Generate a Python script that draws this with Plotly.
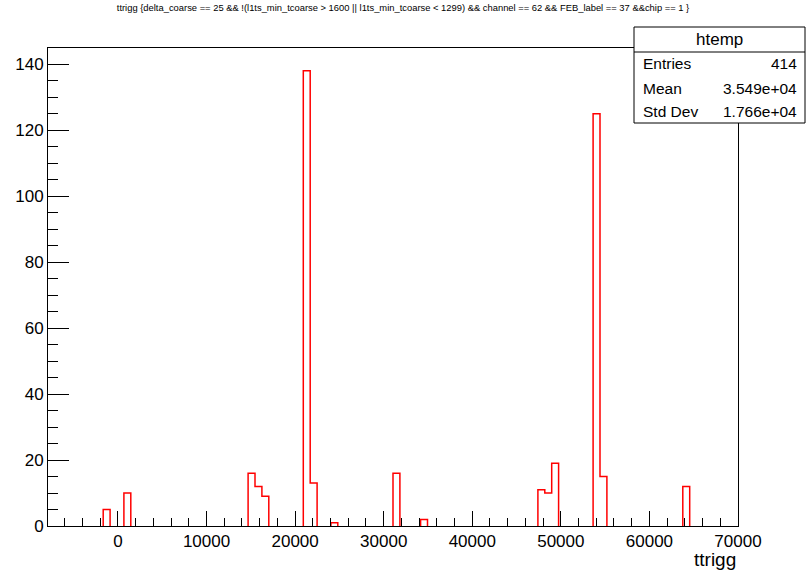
import plotly.graph_objects as go

# ---- data (ROOT htemp histogram) ----
nbins = 100
x_low = -7900.0
x_high = 70000.0
filled_bins = [8, 11, 29, 30, 31, 37, 38, 41, 50, 54, 71, 72, 73, 79, 80, 92]
bin_counts = [5, 10, 16, 12, 9, 138, 13, 1, 16, 2, 11, 10, 19, 125, 15, 12]
x_tick_vals = [0, 10000, 20000, 30000, 40000, 50000, 60000, 70000]
x_tick_text = ["0", "10000", "20000", "30000", "40000", "50000", "60000", "70000"]
y_tick_vals = [0, 20, 40, 60, 80, 100, 120, 140]
stats_name = "htemp"
stats_labels = ["Entries", "Mean", "Std Dev"]
stats_values = ["414", "3.549e+04", "1.766e+04"]
title_text = ("ttrigg {delta_coarse == 25 && !(l1ts_min_tcoarse > 1600 || "
              "l1ts_min_tcoarse < 1299) && channel == 62 && FEB_label == 37 &&chip == 1 }")
x_title = "ttrigg"

# ---- build histogram step outline ----
width = (x_high - x_low) / nbins
counts = [0] * nbins
for b, c in zip(filled_bins, bin_counts):
    counts[b] = c
edges = [x_low + i * width for i in range(nbins + 1)]

xs, ys = [], []
i = 0
while i < nbins:
    if counts[i] > 0:
        xs.append(edges[i]); ys.append(0)
        while i < nbins and counts[i] > 0:
            xs += [edges[i], edges[i + 1]]
            ys += [counts[i], counts[i]]
            i += 1
        xs.append(edges[i]); ys.append(0)
        xs.append(None); ys.append(None)
    else:
        i += 1

W, H = 806, 574
L, R, T, B = 48, 738, 48, 526
ymax = 1.05 * max(bin_counts)

fig = go.Figure()
fig.add_trace(go.Scatter(x=xs, y=ys, mode="lines",
                         line=dict(color="#ff0000", width=1.5),
                         hoverinfo="skip", showlegend=False))

font = "Liberation Sans, Arial, Helvetica, sans-serif"

fig.update_layout(
    width=W, height=H,
    margin=dict(l=L, r=W - R, t=T, b=H - B, pad=0),
    paper_bgcolor="white", plot_bgcolor="white",
    showlegend=False,
    font=dict(family=font, color="black"),
    title=dict(text=title_text, x=0.5, xref="container", xanchor="center",
               y=1 - 8 / H, yref="container", yanchor="middle",
               font=dict(size=9.4, family=font, color="black")),
    xaxis=dict(range=[x_low, x_high], tickvals=x_tick_vals, ticktext=x_tick_text,
               ticks="inside", ticklen=15, tickwidth=1, tickcolor="black",
               showline=True, linecolor="black", linewidth=1, mirror=True,
               showgrid=False, zeroline=False,
               tickfont=dict(size=17, family=font, color="black"),
               minor=dict(dtick=2000, tick0=0, ticks="inside", ticklen=8,
                          tickcolor="black", tickwidth=1, showgrid=False)),
    yaxis=dict(range=[0, ymax], tickvals=y_tick_vals,
               ticks="inside", ticklen=21, tickwidth=1, tickcolor="black",
               showline=True, linecolor="black", linewidth=1, mirror=True,
               showgrid=False, zeroline=False,
               tickfont=dict(size=17, family=font, color="black"),
               minor=dict(dtick=5, tick0=0, ticks="inside", ticklen=10,
                          tickcolor="black", tickwidth=1, showgrid=False)),
)

def px(x):
    return (x - L) / (R - L)

def py(y):
    return (B - y) / (B - T)

# stats box
bx0, bx1, by0, by1, bsep = 634, 805, 27, 123, 52
fig.add_shape(type="rect", xref="paper", yref="paper",
              x0=px(bx0), x1=px(bx1), y0=py(by1), y1=py(by0),
              fillcolor="white", line=dict(color="black", width=1), layer="above")
fig.add_shape(type="line", xref="paper", yref="paper",
              x0=px(bx0), x1=px(bx1), y0=py(bsep), y1=py(bsep),
              line=dict(color="black", width=1), layer="above")
fig.add_annotation(text=stats_name, xref="paper", yref="paper",
                   x=px((bx0 + bx1) / 2), y=py(39.5), xanchor="center", yanchor="middle",
                   showarrow=False, font=dict(size=17, family=font, color="black"))
row_y = [64, 88, 111]
for lab, val, yy in zip(stats_labels, stats_values, row_y):
    fig.add_annotation(text=lab, xref="paper", yref="paper", x=px(641), y=py(yy),
                       xanchor="left", yanchor="middle", showarrow=False,
                       font=dict(size=15.5, family=font, color="black"))
    fig.add_annotation(text=val, xref="paper", yref="paper", x=px(799), y=py(yy),
                       xanchor="right", yanchor="middle", showarrow=False,
                       font=dict(size=15.5, family=font, color="black"))

# x-axis title, right aligned like ROOT
fig.add_annotation(text=x_title, xref="paper", yref="paper", x=px(738), y=py(559),
                   xanchor="right", yanchor="middle", showarrow=False,
                   font=dict(size=19, family=font, color="black"))

fig.write_html("out.html")
